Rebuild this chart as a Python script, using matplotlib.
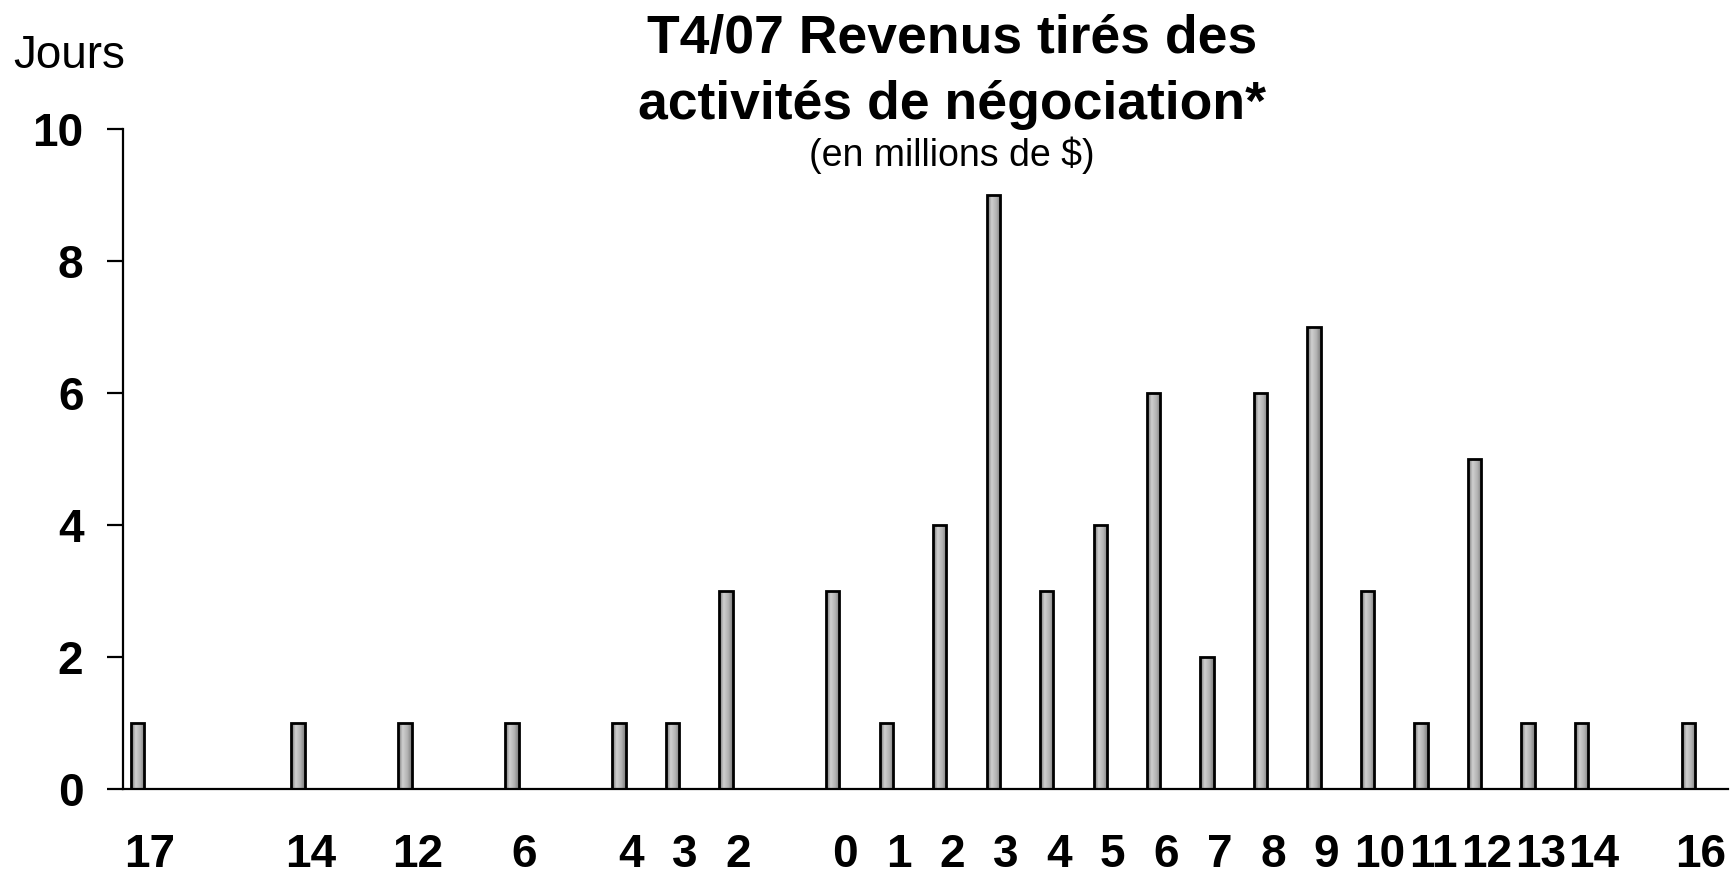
import numpy as np
import matplotlib.pyplot as plt
from matplotlib.colors import LinearSegmentedColormap

# Categories (millions $), one slot each; empty label = empty slot
categories = ['17', '', '', '14', '', '12', '', '6', '', '4', '3', '2', '', '0', '1',
              '2', '3', '4', '5', '6', '7', '8', '9', '10', '11', '12', '13', '14', '', '16']
# Number of days in each slot
days = [1, 0, 0, 1, 0, 1, 0, 1, 0, 1, 1, 3, 0, 3, 1,
        4, 9, 3, 4, 6, 2, 6, 7, 3, 1, 5, 1, 1, 0, 1]
y_ticks = [0, 2, 4, 6, 8, 10]

plt.rcParams['font.family'] = ['Liberation Sans', 'DejaVu Sans']

fig = plt.figure(figsize=(17.31, 8.80), dpi=100)
ax = fig.add_axes([0.0711, 0.1034, 0.9269, 0.7500])

slots = np.arange(len(categories))
days = np.array(days)
has_bar = days > 0
bars = ax.bar(slots[has_bar] + 0.27, days[has_bar], width=0.25,
              color='#a9a9a9', edgecolor='black', linewidth=2.0, zorder=3)

# shaded fill inside each bar (darker sides, light centre)
shade = LinearSegmentedColormap.from_list('shade', ['#6e6e6e', '#cfcfcf', '#b4b4b4', '#7c7c7c'])
grad = np.linspace(0, 1, 64).reshape(1, -1)
for b in bars:
    x0, w, h = b.get_x(), b.get_width(), b.get_height()
    im = ax.imshow(grad, cmap=shade, extent=[x0, x0 + w, 0, h], aspect='auto', zorder=2)
    im.set_clip_path(b)
    b.set_facecolor('none')

ax.set_xlim(0, len(categories))
ax.set_ylim(0, 10)

# x labels at slot centres, only for slots that have a bar
ax.set_xticks(slots[has_bar] + 0.5)
ax.set_xticklabels([categories[i] for i in slots[has_bar]],
                   fontsize=33, fontweight='bold')
ax.tick_params(axis='x', length=0, pad=32)

ax.set_yticks(y_ticks)
ax.set_yticklabels([str(t) for t in y_ticks], fontsize=33, fontweight='bold')
ax.tick_params(axis='y', direction='out', length=11.5, width=1.6, pad=17)

for side in ['top', 'right']:
    ax.spines[side].set_visible(False)
ax.spines['left'].set_linewidth(1.6)
ax.spines['bottom'].set_linewidth(1.6)

fig.text(0.55, 1 - 53 / 880, 'T4/07 Revenus tirés des', ha='center', va='baseline',
         fontsize=38.5, fontweight='bold')
fig.text(0.55, 1 - 119 / 880, 'activités de négociation*', ha='center', va='baseline',
         fontsize=38.5, fontweight='bold')
fig.text(0.55, 1 - 166 / 880, '(en millions de $)', ha='center', va='baseline', fontsize=27)
fig.text(69 / 1731, 1 - 68 / 880, 'Jours', ha='center', va='baseline', fontsize=33)

fig.savefig('out.png', dpi=100)
